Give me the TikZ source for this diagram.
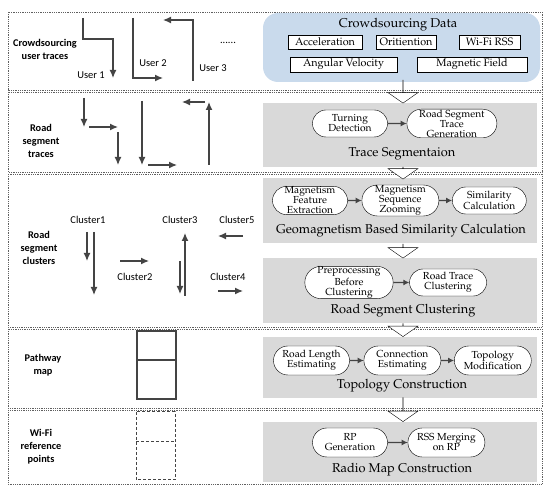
\documentclass[tikz,border=0pt]{standalone}
\usepackage[T1]{fontenc}
\usepackage{fontspec}
\usepackage{tikz}
\usetikzlibrary{positioning}
\usetikzlibrary{shapes.misc, shapes.arrows, arrows.meta}

\newfontfamily\labelfont{Carlito}
\newcommand{\palfont}{\fontencoding{T1}\fontfamily{ppl}\selectfont}
\definecolor{databg}{RGB}{201,218,236}
\definecolor{tracegray}{RGB}{68,68,68}

\begin{document}
\begin{tikzpicture}[x=1pt, y=-1pt,
                          rowframe/.style={draw=gray!75!black, densely dotted, line width=0.8pt},
                          stagebox/.style={rectangle, fill=gray!30, minimum width=274pt, inner sep=0pt},
                          databox/.style={rectangle, rounded corners=15pt, fill=databg, minimum width=277pt, minimum height=69pt, inner sep=0pt},
                          itembox/.style={rectangle, draw, fill=white, inner sep=0pt, font=\palfont\fontsize{10.8}{11}\selectfont},
                          stagetitle/.style={font=\palfont\fontsize{12.8}{14}\selectfont},
                          stepnode/.style={rounded rectangle, draw, fill=white, align=center, inner sep=0.5pt, minimum height=27pt, font=\palfont\fontsize{10.2}{10}\selectfont},
                          stepline/.style={-{Latex[length=6pt,width=6pt]}, draw=tracegray, line width=1.2pt},
                          flowarrow/.style={single arrow, draw, fill=white, rotate=-90, inner sep=0pt, minimum width=30pt, single arrow head extend=10pt, single arrow tip angle=110},
                          rowlabel/.style={align=center, font=\labelfont\bfseries\fontsize{10.3}{13}\selectfont},
                          tracelabel/.style={font=\labelfont\fontsize{10.5}{11}\selectfont},
                          trace/.style={draw=tracegray, line width=1.3pt, -{Latex[length=8pt,width=7pt]}},
                          mapline/.style={draw=tracegray, line width=1.2pt},
                      ]
                      \useasboundingbox (0,0) rectangle (550,494);

                      % Row frames
                      \draw[rowframe] (8,12) rectangle (542,90);
                      \draw[rowframe] (8,92) rectangle (542,172);
                      \draw[rowframe] (8,174) rectangle (542,327);
                      \draw[rowframe] (8,329) rectangle (542,408);
                      \draw[rowframe] (8,410) rectangle (542,484);

                      % Row labels
                      \node[rowlabel]   (lab_users)     at (45,49)    {Crowdsourcing\\user traces};
                      \node[rowlabel]   (lab_traces)    at (41,141)   {Road\\segment\\traces};
                      \node[rowlabel]   (lab_clusters)  at (39,248)   {Road\\segment\\clusters};
                      \node[rowlabel]   (lab_map)       at (43,365)   {Pathway\\map};
                      \node[rowlabel]   (lab_rp)        at (41,447)   {Wi-Fi\\reference\\points};

                      % Crowdsourcing data
                      \node[databox]    (data)          at (401.5,47.5) {};
                      \node[stagetitle] (data_title)    at (398,25)   {Crowdsourcing Data};
                      \node[itembox, minimum width=74pt, minimum height=14pt]  (acc)  at (325,42)    {Acceleration};
                      \node[itembox, minimum width=60pt, minimum height=14pt]  (ori)  at (406,42)    {Oritiention};
                      \node[itembox, minimum width=61pt, minimum height=14pt]  (rss)  at (489.5,42)  {Wi-Fi RSS};
                      \node[itembox, minimum width=107pt, minimum height=15pt] (ang)  at (343.5,64.5) {Angular Velocity};
                      \node[itembox, minimum width=110pt, minimum height=15pt] (mag)  at (472,64.5)  {Magnetic Field};

                      % Trace segmentation
                      \node[stagebox, minimum height=64pt] (seg) at (400,135) {};
                      \node[stagetitle]   (seg_title)   at (402,154)  {Trace Segmentaion};
                      \node[stepnode, minimum width=76pt]  (turn)  at (350,123.5)        {Turning\\Detection};
                      \node[stepnode, minimum width=91pt]  (gen)   [right=19pt of turn]  {Road Segment\\Trace\\Generation};

                      % Similarity calculation
                      \node[stagebox, minimum height=65pt] (sim) at (400,210.5) {};
                      \node[stagetitle]   (sim_title)   at (401,231)  {Geomagnetism Based Similarity Calculation};
                      \node[stepnode, minimum width=76pt]  (feat)  at (310,200.5)        {Magnetism\\Feature\\Extraction};
                      \node[stepnode, minimum width=78pt]  (zoom)  [right=14pt of feat]  {Magnetism\\Sequence\\Zooming};
                      \node[stepnode, minimum width=75pt]  (calc)  [right=13pt of zoom]  {Similarity\\Calculation};

                      % Clustering
                      \node[stagebox, minimum height=65pt] (clu) at (400,290.5) {};
                      \node[stagetitle]   (clu_title)   at (403,311)  {Road Segment Clustering};
                      \node[stepnode, minimum width=88pt]  (prep)  at (349,282.5)        {Preprocessing\\Before\\Clustering};
                      \node[stepnode, minimum width=78pt]  (rtc)   [right=16pt of prep]  {Road Trace\\Clustering};

                      % Topology
                      \node[stagebox, minimum height=61pt] (topo) at (400,367.5) {};
                      \node[stagetitle]   (topo_title)  at (402,386)  {Topology Construction};
                      \node[stepnode, minimum width=77pt, minimum height=29pt]  (len)   at (311.5,360.5)     {Road Length\\Estimating};
                      \node[stepnode, minimum width=78pt, minimum height=29pt]  (conn)  [right=14pt of len]  {Connection\\Estimating};
                      \node[stepnode, minimum width=78pt, minimum height=29pt]  (modi)  [right=13pt of conn] {Topology\\Modification};

                      % Radio map
                      \node[stagebox, minimum height=60pt] (radio) at (400,452) {};
                      \node[stagetitle]   (radio_title) at (402,470)  {Radio Map Construction};
                      \node[stepnode, minimum width=76pt, minimum height=29pt]  (rpgen) at (350,442.5)       {RP\\Generation};
                      \node[stepnode, minimum width=78pt, minimum height=29pt]  (merge) [right=20pt of rpgen] {RSS Merging\\on RP};

                      % Step lines
                      \draw[stepline] (turn) -- (gen);
                      \draw[stepline] (feat) -- (zoom);
                      \draw[stepline] (zoom) -- (calc);
                      \draw[stepline] (prep) -- (rtc);
                      \draw[stepline] (len) -- (conn);
                      \draw[stepline] (conn) -- (modi);
                      \draw[stepline] (rpgen) -- (merge);

                      % Flow arrows
                      \node[flowarrow, minimum height=23pt] (flow_1) at (403,91.5)  {};
                      \node[flowarrow, minimum height=12pt] (flow_2) at (403,173)   {};
                      \node[flowarrow, minimum height=14pt] (flow_3) at (403,251)   {};
                      \node[flowarrow, minimum height=13pt] (flow_4) at (403,330)   {};
                      \node[flowarrow, minimum height=24pt] (flow_5) at (403,409.5) {};

                      % User traces
                      \draw[trace] (83,18) -- (83,39) -- (113,39) -- (113,78);
                      \draw[trace] (133,18) -- (133,78) -- (163,78);
                      \draw[trace] (193,81) -- (193,20) -- (163,20);
                      \node[tracelabel] (user_1) at (91,75)  {User 1};
                      \node[tracelabel] (user_2) at (153,63) {User 2};
                      \node[tracelabel] (user_3) at (213,68) {User 3};
                      \node[tracelabel] (more)   at (228,43) {......};

                      % Road segment traces
                      \draw[trace] (84,98) -- (84,127);
                      \draw[trace] (89,127) -- (118,127);
                      \draw[trace] (118,132) -- (118,165);
                      \draw[trace] (142,101) -- (142,165);
                      \draw[trace] (148,165) -- (177,165);
                      \draw[trace] (209,165) -- (209,102);
                      \draw[trace] (205,102) -- (182,102);

                      % Clusters
                      \draw[trace] (87,232) -- (87,261);
                      \draw[trace] (94,232) -- (94,295);
                      \draw[trace] (120,261) -- (149,261);
                      \draw[trace] (185,296) -- (185,233);
                      \draw[trace] (180,261) -- (180,294);
                      \draw[trace] (243,236) -- (218,236);
                      \draw[trace] (218,291) -- (243,291);
                      \node[tracelabel] (cluster_1) at (88,220)  {Cluster1};
                      \node[tracelabel] (cluster_2) at (135,277) {Cluster2};
                      \node[tracelabel] (cluster_3) at (180,220) {Cluster3};
                      \node[tracelabel] (cluster_4) at (228,277) {Cluster4};
                      \node[tracelabel] (cluster_5) at (237,220) {Cluster5};

                      % Pathway map and reference points
                      \draw[mapline] (137,331) rectangle (176,399);
                      \draw[mapline] (137,360) -- (176,360);
                      \draw[mapline, densely dashed, line width=1pt] (136,412) rectangle (175,480);
                      \draw[mapline, densely dashed, line width=1pt] (136,442) -- (175,442);
                  \end{tikzpicture}
\end{document}
